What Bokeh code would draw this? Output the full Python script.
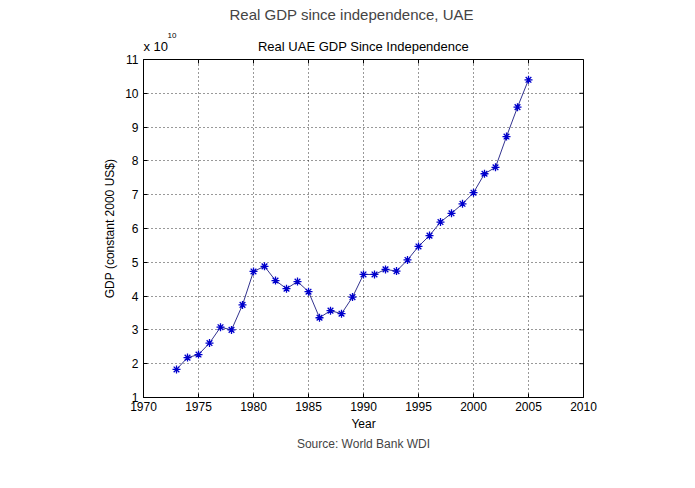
import math
from bokeh.plotting import figure
from bokeh.models import Title, FixedTicker, ColumnDataSource, Range1d, LinearAxis
from bokeh.embed import file_html
from bokeh.resources import INLINE

# Data (GDP in units of 1e10 constant 2000 US$)
years = list(range(1973, 2006))
gdp_e10 = [1.83, 2.18, 2.27, 2.61, 3.08, 3.00, 3.74, 4.73, 4.88, 4.46, 4.22, 4.43,
           4.13, 3.36, 3.57, 3.48, 3.97, 4.64, 4.64, 4.79, 4.74, 5.07, 5.47, 5.79,
           6.19, 6.45, 6.73, 7.06, 7.62, 7.81, 8.72, 9.59, 10.40]
x_ticks = [1970, 1975, 1980, 1985, 1990, 1995, 2000, 2005, 2010]
y_ticks = [1, 2, 3, 4, 5, 6, 7, 8, 9, 10, 11]

main_title = "Real GDP since independence, UAE"
sub_title = "Real UAE GDP Since Independence"
scale_base = "x 10"
scale_exp = "10"
x_label = "Year"
y_label = "GDP (constant 2000 US$)"
source_note = "Source: World Bank WDI"

FONT = "Liberation Sans"

src = ColumnDataSource(dict(year=years, gdp=gdp_e10))
x_lo, x_hi = x_ticks[0], x_ticks[-1]
y_lo, y_hi = y_ticks[0], y_ticks[-1]

W, H = 679, 472
BL, BR, BT, BB = 143, 96, 59, 75
p = figure(width=W, height=H, output_backend="svg", toolbar_location=None,
           x_range=Range1d(x_lo, x_hi), y_range=Range1d(y_lo, y_hi),
           min_border_left=BL, min_border_right=BR, min_border_top=BT,
           min_border_bottom=BB)
p.background_fill_color = "white"
p.border_fill_color = "white"
p.outline_line_color = "black"
p.outline_line_width = 1

for ax in (p.xaxis[0], p.yaxis[0]):
    ax.axis_line_color = "black"
    ax.major_tick_in = 4
    ax.major_tick_out = 0
    ax.minor_tick_line_color = None
    ax.major_label_text_font = FONT
    ax.major_label_text_font_size = "12px"
    ax.major_label_text_color = "black"
    ax.axis_label_text_font = FONT
    ax.axis_label_text_font_size = "12px"
    ax.axis_label_text_font_style = "normal"
    ax.axis_label_text_color = "black"
p.xaxis[0].ticker = FixedTicker(ticks=x_ticks)
p.yaxis[0].ticker = FixedTicker(ticks=y_ticks)
p.xaxis[0].major_label_standoff = 4
p.yaxis[0].major_label_standoff = 5
p.xaxis[0].axis_label = x_label
p.xaxis[0].axis_label_standoff = 3
p.yaxis[0].axis_label = y_label
p.yaxis[0].axis_label_standoff = 5

p.xgrid.ticker = FixedTicker(ticks=x_ticks)
p.ygrid.ticker = FixedTicker(ticks=y_ticks)
for g in (p.xgrid[0], p.ygrid[0]):
    g.grid_line_color = "black"
    g.grid_line_dash = "1 3"
    g.grid_line_alpha = 0.8

# inward tick marks on top and right edges (half of each dash is clipped away)
p.scatter(x=x_ticks, y=[y_hi] * len(x_ticks), marker="dash", angle=math.pi / 2,
          size=8, line_color="black", line_width=1)
p.scatter(x=[x_hi] * len(y_ticks), y=y_ticks, marker="dash",
          size=8, line_color="black", line_width=1)

p.line("year", "gdp", source=src, line_color="#33338f", line_width=1)
p.scatter("year", "gdp", source=src, marker="asterisk", size=8,
          line_color="#0000cc", line_width=1.3)

# Top text row, drawn as labels of invisible top axes
frame_w = W - BL - BR
px_per_x = frame_w / (x_hi - x_lo)
base_pos = x_lo + 12.3 / px_per_x       # "x 10" starts at the frame's left edge
exp_pos = x_lo + 28.5 / px_per_x        # exponent just right of it
sub_pos = (x_lo + x_hi) / 2

def text_axis(ticks, labels, size, standoff):
    return LinearAxis(ticker=FixedTicker(ticks=ticks),
                      major_label_overrides=dict(zip(ticks, labels)),
                      major_tick_line_color=None, minor_tick_line_color=None,
                      axis_line_color=None, major_label_standoff=standoff,
                      major_label_text_font=FONT, major_label_text_font_size=size,
                      major_label_text_color="black")

p.add_layout(text_axis([base_pos, sub_pos], [scale_base, sub_title], "13px", 0), "above")
p.add_layout(text_axis([exp_pos], [scale_exp], "8px", -8), "above")

p.title.text = main_title
p.title.align = "left"
p.title.offset = 86
p.title.vertical_align = "top"
p.title.text_font = FONT
p.title.text_font_size = "15px"
p.title.text_font_style = "normal"
p.title.standoff = 10

p.add_layout(Title(text=source_note, align="center",
                   text_font=FONT, text_font_size="12px", text_font_style="normal",
                   standoff=2), "below")

open("out.html", "w").write(file_html(p, INLINE))
